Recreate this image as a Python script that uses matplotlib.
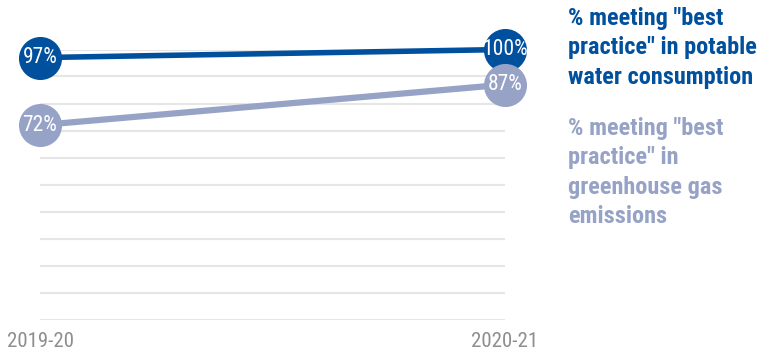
import matplotlib
matplotlib.use("Agg")
import matplotlib.pyplot as plt
from matplotlib import font_manager

years = ["2019-20", "2020-21"]
water = [97, 100]
ghg = [72, 87]
series_names = ['% meeting "best\npractice" in potable\nwater consumption',
                '% meeting "best\npractice" in\ngreenhouse gas\nemissions']

names = {f.name for f in font_manager.fontManager.ttflist}
narrow = "Liberation Sans"
for cand in ["Liberation Sans Narrow", "Roboto Condensed", "Open Sans Condensed", "DejaVu Sans Condensed"]:
    if cand in names:
        narrow = cand
        break

dark = "#00509e"
light = "#97a3c6"

fig = plt.figure(figsize=(7.79, 3.51), dpi=100)
W, H = 779, 351
ax = fig.add_axes([40 / W, (H - 319.5) / H, (505 - 40) / W, (319.5 - 49.5) / H])
ax.set_xlim(0, 1)
ax.set_ylim(0, 100)
for s in ax.spines.values():
    s.set_visible(False)
ax.set_yticks(range(0, 101, 10))
ax.yaxis.grid(True, color="#e6e6e6", linewidth=1.5)
ax.set_axisbelow(True)
ax.tick_params(axis="y", left=False, labelleft=False)
ax.set_xticks([0, 1])
ax.set_xticklabels(years, fontfamily=narrow, fontsize=15, color="#8e8e8e")
ax.tick_params(axis="x", length=0, pad=9)

x = [0, 1]
for vals, col, lw in [(water, dark, 4.0), (ghg, light, 4.5)]:
    ax.plot(x, vals, color=col, linewidth=lw, zorder=3, clip_on=False, solid_capstyle="butt")
for vals, col in [(water, dark), (ghg, light)]:
    ax.scatter(x, vals, s=31 ** 2, color=col, zorder=4, clip_on=False, linewidths=0)
    for xi, v in zip(x, vals):
        ax.text(xi, v, f"{v}%", ha="center", va="center", color="white",
                fontfamily=narrow, fontsize=15.5, zorder=5)

fig.text(568 / W, 1 - 7 / H, series_names[0], ha="left", va="top", color=dark,
         fontfamily=narrow, fontweight="bold", fontsize=17.5, linespacing=1.36)
fig.text(568 / W, 1 - 117 / H, series_names[1], ha="left", va="top", color=light,
         fontfamily=narrow, fontweight="bold", fontsize=17.5, linespacing=1.36)

fig.savefig("out.png", dpi=100)
